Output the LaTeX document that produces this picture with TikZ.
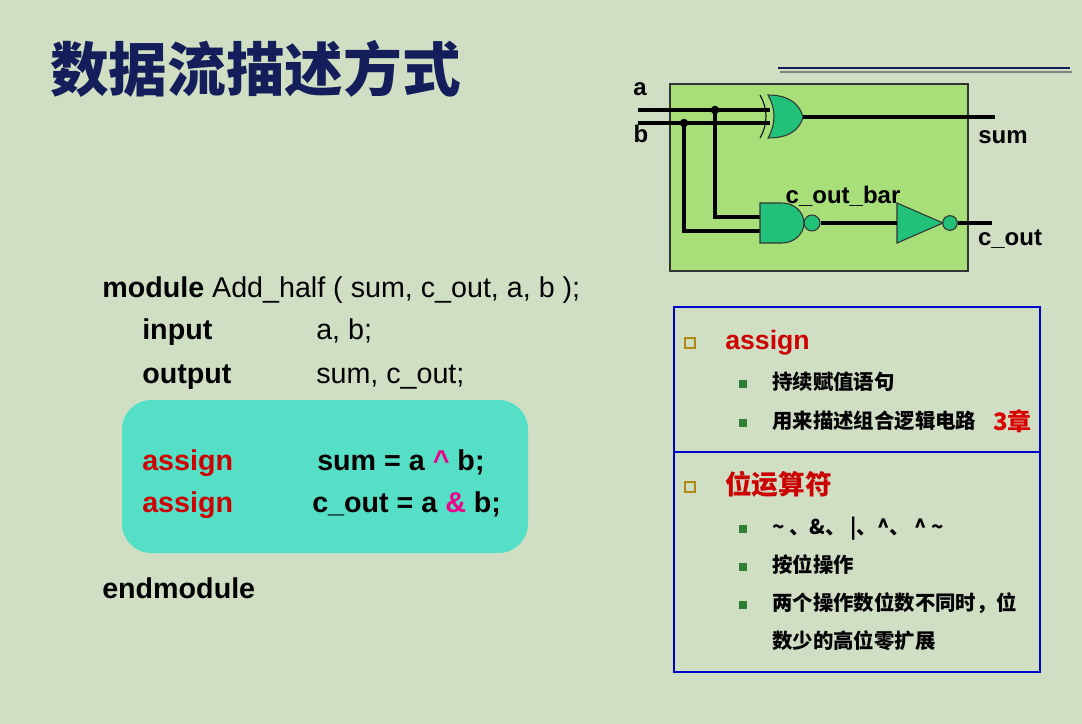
\documentclass[tikz,border=0pt]{standalone}
\usepackage{fontspec}
\setmainfont{Liberation Sans}
\newfontfamily\cjk{Noto Sans CJK SC}
\definecolor{bg}{HTML}{D0DFC4}
\definecolor{boxgreen}{HTML}{A8DF78}
\definecolor{gategreen}{HTML}{22C17A}
\definecolor{codebg}{HTML}{55DFC6}
\definecolor{kwred}{HTML}{CC0000}
\definecolor{navy}{HTML}{141E5A}
\definecolor{olive}{HTML}{B08A10}
\definecolor{bulgreen}{HTML}{2E7D32}
\tikzset{
  wire/.style={line width=3pt},
  gate/.style={draw=black!80,fill=gategreen,line width=0.8pt},
  lbl/.style={font=\bfseries\fontsize{18}{18}\selectfont,inner sep=0pt},
  code/.style={font=\fontsize{21.5}{21.5}\selectfont,anchor=base west,inner sep=0pt},
  bcode/.style={code,font=\bfseries\fontsize{21.5}{21.5}\selectfont},
  item/.style={font=\cjk\bfseries\fontsize{15.3}{15.3}\selectfont,anchor=base west,inner sep=0pt},
  head/.style={font=\cjk\bfseries\fontsize{20}{20}\selectfont,text=kwred,anchor=base west,inner sep=0pt},
  hollow/.style={draw=olive,line width=1.5pt,fill=bg,minimum size=7pt,inner sep=0pt},
  sqbullet/.style={fill=bulgreen,minimum size=6pt,inner sep=0pt}
}
\begin{document}
\begin{tikzpicture}[x=0.75pt,y=-0.75pt]
\useasboundingbox[fill=bg] (0,0) rectangle (1082,724);
% title
\node[anchor=base west,inner sep=0pt,text=navy,font=\cjk\bfseries\fontsize{44}{44}\selectfont] (title) at (50,92) {数据流描述方式};
\draw[navy,line width=1.2pt] (778,68) -- (1070,68);
\draw[black!50,line width=1.2pt] (780,72) -- (1072,72);
% circuit
\draw[fill=boxgreen,draw=black!80,line width=0.8pt] (670,84) rectangle (968,271);
\coordinate (ain) at (638,110);
\coordinate (bin) at (638,123);
\coordinate (adot) at (715,110);
\coordinate (bdot) at (684,123);
\draw[wire] (ain) -- (770,110);
\draw[wire] (bin) -- (770,123);
\draw[wire] (803,117) -- (995,117);
\draw[wire] (adot) |- (760,217);
\draw[wire] (bdot) |- (760,231);
\draw[gate] (768,95) .. controls (790,95) and (800,105) .. (803,117)
  .. controls (800,129) and (790,138) .. (768,138)
  .. controls (776,124) and (776,109) .. (768,95) -- cycle;
\draw[line width=0.8pt] (760,95) .. controls (768,109) and (768,124) .. (760,138);
\draw[gate] (760,203) -- (782,203) .. controls (794,203) and (804,212) .. (804,223)
  .. controls (804,234) and (794,243) .. (782,243) -- (760,243) -- cycle;
\node[gate,circle,minimum size=12pt,inner sep=0pt] (nb) at (812,223) {};
\draw[gate] (897,203) -- (943,223) -- (897,243) -- cycle;
\node[gate,circle,minimum size=11pt,inner sep=0pt] (ib) at (950,223) {};
\draw[wire] (nb.east) -- (897,223);
\draw[wire] (ib.east) -- (992,223);
\fill (adot) circle (3.2pt);
\fill (bdot) circle (3.2pt);
\node[lbl] (la) at (640,89) {a};
\node[lbl] (lb) at (641,134) {b};
\node[lbl] (lsum) at (1003,137) {sum};
\node[lbl] (lcout) at (1010,239) {c\_out};
\node[lbl] (lbar) at (843,196) {c\_out\_bar};
% code
\node[code] (mod) at (102,297) {\textbf{module} Add\_half ( sum, c\_out, a, b );};
\node[code] (inp) at (142,339) {\textbf{input}};
\node[code] (inpv) at (316,339) {a, b;};
\node[code] (outp) at (142,383) {\textbf{output}};
\node[code] (outpv) at (316,383) {sum, c\_out;};
\draw[fill=codebg,draw=none,rounded corners=22pt] (122,400) rectangle (528,553);
\node[bcode,text=kwred] (as1) at (142,470) {assign};
\node[bcode] (eq1) at (317,470) {sum = a \textcolor{magenta}{\^{}} b;};
\node[bcode,text=kwred] (as2) at (142,512) {assign};
\node[bcode] (eq2) at (312,512) {c\_out = a \textcolor{magenta}{\&} b;};
\node[bcode] (endm) at (102,598) {endmodule};
% notes
\draw[draw=blue!80!black,line width=1.5pt] (674,307) rectangle (1040,672);
\draw[draw=blue!80!black,line width=1.5pt] (674,452) -- (1040,452);
\node[hollow] (h1) at (690,343) {};
\node[head,font=\bfseries\fontsize{20}{20}\selectfont] (t1) at (725,349) {assign};
\node[sqbullet] (s1) at (743,384) {};
\node[item] (i1) at (772,389) {持续赋值语句};
\node[sqbullet] (s2) at (743,423) {};
\node[item] (i2) at (772,428) {用来描述组合逻辑电路};
\node[item,text=red!85!black,font=\cjk\bfseries\fontsize{18}{18}\selectfont] (i2b) at (993,430) {3章};
\node[hollow] (h2) at (690,487) {};
\node[head] (t2) at (725,494) {位运算符};
\node[sqbullet] (s3) at (743,529) {};
\node[item] (i3) at (772,534) {\textasciitilde{} 、\&、 |、\textasciicircum{}、 \textasciicircum{} \textasciitilde{}};
\node[sqbullet] (s4) at (743,567) {};
\node[item] (i4) at (772,572) {按位操作};
\node[sqbullet] (s5) at (743,605) {};
\node[item] (i5) at (772,610) {两个操作数位数不同时，位};
\node[item] (i6) at (772,648) {数少的高位零扩展};
\end{tikzpicture}
\end{document}
